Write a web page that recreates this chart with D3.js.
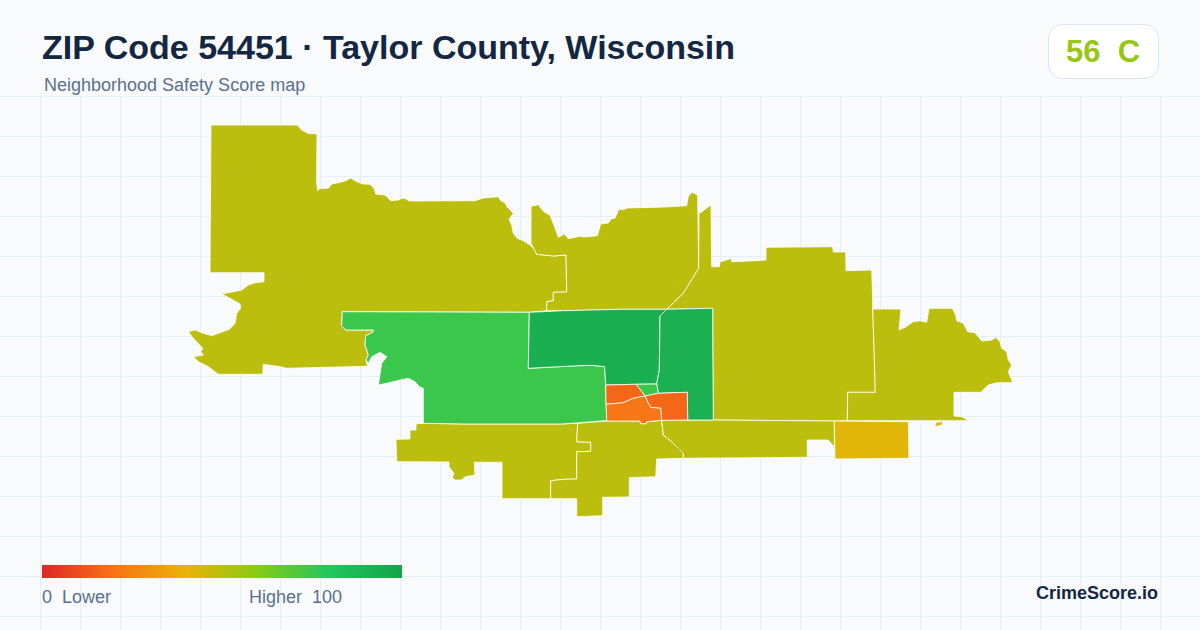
<!DOCTYPE html>
<html>
<head>
<meta charset="utf-8">
<script src="https://cdn.jsdelivr.net/npm/d3@7"></script>
<style>
  html, body { margin: 0; padding: 0; background: #f8fafc; }
  svg { display: block; font-family: "Liberation Sans", Arial, sans-serif; }
  text { white-space: pre; }
</style>
</head>
<body>
<div id="chart"></div>
<script>
// General settings
var width = 1200;
var height = 630;

// Text
var titleText = "ZIP Code 54451 · Taylor County, Wisconsin";
var subtitleText = "Neighborhood Safety Score map";
var scoreValue = 56;
var scoreGrade = "C";
var legendLow = "0  Lower";
var legendHigh = "Higher  100";
var brandText = "CrimeScore.io";

// Score colour ramp
var rampStops = [0, 20, 40, 60, 80, 100];
var rampColors = ["#dc2626", "#f97316", "#eab308", "#84cc16", "#22c55e", "#16a34a"];

// Areas
var areaNames = ["west", "northCentre", "east", "farEast", "southWest", "southMid", "southEast", "amber", "amberIsle", "greenWest", "greenNorth", "greenEast", "greenSmall", "redNorth", "redEast", "orangeCore"];
var areaScores = [49, 49, 49, 49, 49, 49, 49, 42, 42, 75, 93, 92, 75, 17, 17, 21];
var areaRings = [
  [[211,125],[297.3,125],[301.7,130],[308,133.3],[317,134],[316.7,170],[316.7,183],[317.7,190.7],[320,188.3],[328.3,188.3],[331.7,184],[338.3,182.7],[345,181],[350.7,178],[356.7,181.7],[363.3,184],[370,184.3],[374,188.3],[375.7,194],[385,195],[390.7,200.7],[398.3,200],[401.7,198.3],[405,198.3],[409,201],[475,200.7],[483.3,198],[498.3,196.7],[500.7,200.7],[505,202.7],[506.7,206.7],[513.3,213.3],[509,219.3],[511.7,225],[513.3,233.3],[517.3,238.3],[523.3,240.7],[530,245],[535,250],[536.7,254.3],[553.3,256],[566,255],[566.7,292],[553.3,292.3],[553.3,300.7],[546.7,301.7],[546.7,310.7],[529.3,312.3],[342.3,311.7],[341.7,325.7],[345.7,330],[373.3,330],[372.7,332.3],[365.7,335.7],[365,345],[368.3,355],[366,360],[367.3,366.3],[286.7,368.3],[280,366.7],[263.3,364.3],[262.7,374.3],[218.3,374.3],[208.3,366.7],[198.3,361.7],[193.3,356.7],[203.3,355],[200.7,351.7],[202.7,348.3],[193.3,338.3],[188.3,331.7],[195,330],[201.7,332.7],[211.7,335.7],[220,332.7],[229.3,329.3],[235,323.3],[236.7,313.3],[240.7,308.3],[240,304],[230,298.3],[221.7,294],[241.7,290],[248.3,285],[255,282.7],[264,281.7],[264,272.7],[210,272.7]],
  [[531,206.3],[538.3,204.7],[543.3,211.3],[550,215.3],[555,228],[558.3,237.3],[564.3,234],[568.3,238.7],[580,236.3],[585,237],[597.3,235.7],[600.7,224],[608.3,223],[611,219],[615,218],[619,209],[623.3,209.7],[627.3,208],[665,207],[686.7,205.7],[688.3,196.3],[692.3,192.3],[697.7,195.3],[698.7,268.3],[683.3,293.3],[666.7,309.3],[620,309.3],[563.3,310.7],[546.7,310.7],[546.7,301.7],[553.3,300.7],[553.3,292.3],[566.7,292],[566,255],[553.3,256],[536.7,254.3],[531,243.3]],
  [[698.7,268.3],[699,213],[701.7,212],[711,204.7],[711.7,266.7],[719.3,266.7],[720,261.7],[726.7,260],[731.7,258.3],[731.7,261.7],[750,261],[766,260],[766,247.3],[832.7,246.7],[833.3,252],[845.7,252],[846,270.7],[871.7,270],[872.7,300],[872.7,309],[874,346.7],[875.3,392.3],[847.7,392.3],[847.3,420.7],[834.3,421],[713.3,420],[712.7,331.7],[712.7,308.3],[666.7,309.3],[683.3,293.3]],
  [[872.7,309],[901,309],[899,330],[905,327.3],[913.3,321.7],[920,320.7],[926.7,322.3],[929,308.3],[952.3,308.3],[955.7,315],[956.7,320.7],[963.3,323.3],[967.7,331.7],[975,332.7],[981.7,341],[991.7,340],[996,337.3],[1000,341.7],[1001.7,348.3],[1006.7,351.7],[1008.3,360],[1011.7,365],[1008.3,371.7],[1012.7,382.7],[996.7,382.7],[988.3,385],[980.7,392.3],[954,392.3],[954,416],[961.7,416.7],[969,420.7],[847.3,420.7],[847.7,392.3],[875.3,392.3],[874,346.7]],
  [[416,424],[423.3,423.3],[465,424],[561.7,424],[577.7,423.3],[576.7,441.7],[590.7,442.3],[590.7,451.3],[576.7,451.7],[576.7,479],[563.3,479.3],[550.7,480.7],[550.7,498.7],[502,498.7],[502,462.3],[474.3,462.3],[475,475],[465,476.7],[461.7,480],[455,480],[452.3,477.3],[454,473.3],[449,466.7],[449,462],[396.7,461.7],[396,439.3],[410,439],[410,430],[416,430]],
  [[577.7,423.3],[606.7,421],[640,421],[640.7,423.7],[646,423.7],[646.7,421.7],[661.7,420.3],[663.3,435],[671.7,441.7],[683.3,453.3],[683.3,458.3],[656.7,459],[655.7,476.7],[629.3,477.7],[629.3,497],[602.7,497.3],[602.7,515.7],[576.7,516.7],[576.7,498.7],[550.7,498.7],[550.7,480.7],[563.3,479.3],[576.7,479],[576.7,451.7],[590.7,451.3],[590.7,442.3],[576.7,441.7]],
  [[661.7,420.3],[713.3,420],[834.3,421],[834.3,447.3],[828.3,440],[807.3,440],[807.3,457.3],[683.3,458.3],[683.3,453.3],[671.7,441.7],[663.3,435]],
  [[834.3,421],[908.3,421.7],[909,458.3],[835,459]],
  [[934.5,426.2],[936.2,422.2],[942.8,421.5],[942.2,424.8],[938.3,426.2]],
  [[342.3,311.7],[529.3,312.3],[528.3,368.3],[578.3,365.7],[591.7,365.3],[604.7,366.7],[605.7,385],[606,404.3],[607.3,420.5],[580,422.7],[561.7,424],[465,424],[423.3,423.3],[423.3,388.3],[419.3,386.7],[415,381.7],[408.3,378.3],[400,380],[386.7,383.3],[378.3,385],[381.7,363.3],[386.7,356.7],[380,352.3],[371.7,356.7],[368.3,363.3],[366,360],[368.3,355],[365,345],[365.7,335.7],[372.7,332.3],[373.3,330],[345.7,330],[341.7,325.7]],
  [[529.3,312.3],[563.3,310.7],[620,309.3],[666.7,309.3],[660,316],[659.3,370],[656.7,384],[636,384.3],[605.7,385],[604.7,366.7],[591.7,365.3],[578.3,365.7],[528.3,368.3]],
  [[666.7,309.3],[712.7,308.3],[712.7,331.7],[713.3,420],[687.7,420],[687.3,392.3],[673.3,392.7],[658.3,393.3],[656.7,384],[659.3,370],[660,316]],
  [[636,384.3],[656.7,384],[658.3,393.3],[645,396]],
  [[605.7,385],[636,384.3],[645,396],[633.3,398.3],[623.3,402.7],[606,404.3]],
  [[645,396],[658.3,393.3],[673.3,392.7],[687.3,392.3],[687.7,420],[661.7,420.3],[660.7,408.3],[650.7,407.3],[648.3,403.3]],
  [[606,404.3],[623.3,402.7],[633.3,398.3],[645,396],[648.3,403.3],[650.7,407.3],[660.7,408.3],[661.7,420.3],[646.7,421.7],[646,423.7],[640.7,423.7],[640,421],[606.7,421]]
];

var svg = d3.select("#chart")
    .append("svg")
    .attr("width", width)
    .attr("height", height);

var colorScale = d3.scaleLinear()
    .domain(rampStops)
    .range(rampColors)
    .clamp(true);

// Background grid
var gridG = svg.append("g").attr("stroke", "#e6eff5").attr("stroke-width", 1);
gridG.selectAll(".v")
    .data(d3.range(40, width, 40))
    .enter().append("line")
    .attr("x1", d => d + 0.5).attr("x2", d => d + 0.5)
    .attr("y1", 96).attr("y2", height);
gridG.selectAll(".h")
    .data(d3.range(96, height, 40))
    .enter().append("line")
    .attr("x1", 0).attr("x2", width)
    .attr("y1", d => d + 0.5).attr("y2", d => d + 0.5);

// Map
var features = areaRings.map(function (ring, i) {
    return {
        type: "Feature",
        properties: { name: areaNames[i], score: areaScores[i] },
        geometry: { type: "Polygon", coordinates: [ring.concat([ring[0]])] }
    };
});
var path = d3.geoPath(d3.geoIdentity());

svg.append("g").selectAll("path")
    .data(features)
    .enter().append("path")
    .attr("d", path)
    .attr("fill", d => colorScale(d.properties.score))
    .attr("stroke", "#ffffff")
    .attr("stroke-width", 0.8)
    .attr("stroke-linejoin", "round");

// Header
svg.append("text")
    .attr("x", 42).attr("y", 59)
    .attr("font-size", 34).attr("font-weight", 700)
    .attr("fill", "#132742")
    .text(titleText);
svg.append("text")
    .attr("x", 44).attr("y", 91)
    .attr("font-size", 18)
    .attr("fill", "#5b708c")
    .text(subtitleText);

// Score badge
svg.append("rect")
    .attr("x", 1048.5).attr("y", 24.5)
    .attr("width", 110).attr("height", 54)
    .attr("rx", 14)
    .attr("fill", "#ffffff")
    .attr("stroke", "#dde5ee");
svg.append("text")
    .attr("x", 1103).attr("y", 62)
    .attr("text-anchor", "middle")
    .attr("font-size", 31).attr("font-weight", 700)
    .attr("fill", colorScale(scoreValue))
    .text(scoreValue + "  " + scoreGrade);

// Legend
var gradient = svg.append("defs").append("linearGradient").attr("id", "legendRamp");
gradient.selectAll("stop")
    .data(rampStops)
    .enter().append("stop")
    .attr("offset", d => d + "%")
    .attr("stop-color", d => colorScale(d));

var legendScale = d3.scaleLinear().domain([0, 100]).range([42, 402]);
svg.append("rect")
    .attr("x", legendScale(0)).attr("y", 565)
    .attr("width", legendScale(100) - legendScale(0)).attr("height", 13)
    .attr("fill", "url(#legendRamp)");
svg.append("text")
    .attr("x", legendScale(0)).attr("y", 603)
    .attr("font-size", 18).attr("fill", "#5b708c")
    .text(legendLow);
svg.append("text")
    .attr("x", 342).attr("y", 603)
    .attr("text-anchor", "end")
    .attr("font-size", 18).attr("fill", "#5b708c")
    .text(legendHigh);

svg.append("text")
    .attr("x", 1158).attr("y", 599)
    .attr("text-anchor", "end")
    .attr("font-size", 18).attr("font-weight", 700)
    .attr("fill", "#132742")
    .text(brandText);
</script>
</body>
</html>
